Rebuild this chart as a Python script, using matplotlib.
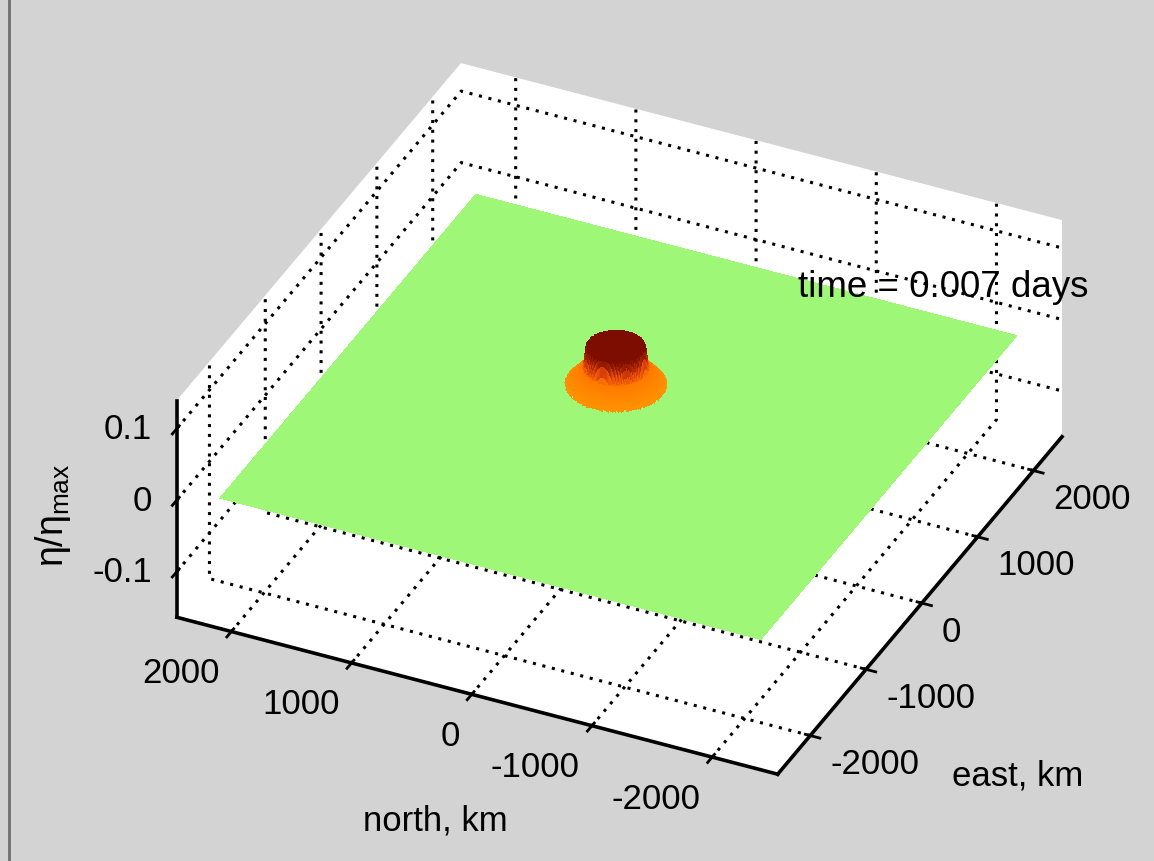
import matplotlib
matplotlib.use('Agg')
import matplotlib.pyplot as plt
import matplotlib.transforms as mtransforms
import numpy as np
from matplotlib.colors import LinearSegmentedColormap, Normalize
from matplotlib.lines import Line2D
from mpl_toolkits.mplot3d import proj3d

# axis ranges
east_lim = (-2583, 2511)
north_lim = (-2545, 2453)
eta_lim = (-0.164, 0.138)

east_ticks = [-2000, -1000, 0, 1000, 2000]
north_ticks = [-2000, -1000, 0, 1000, 2000]
eta_ticks = [-0.1, 0, 0.1]

# extent of the model grid, km
grid_east = (-2420, 2165)
grid_north = (-2330, 2171)

# radial profile of the hump: radius in km -> eta/eta_max
hump_r = [0, 225, 235, 245, 388, 392]
hump_eta = [0.083, 0.083, 0.07, 0.055, 0.03, 0.0]

time_days = 0.007

# colour stops, eta/eta_max -> colour
cmap_levels = [0.0, 0.01, 0.03, 0.055, 0.068, 0.083]
cmap_colors = ['#9ef777', '#ffb040', '#ff9400', '#ff7800', '#e0440a', '#7c0d00']

W, H = 1154, 862

plt.rcParams['font.family'] = ['Liberation Sans', 'DejaVu Sans']
plt.rcParams['font.size'] = 25
plt.rcParams['axes.unicode_minus'] = False
plt.rcParams['mathtext.fontset'] = 'custom'
plt.rcParams['mathtext.rm'] = 'Liberation Sans'
plt.rcParams['mathtext.it'] = 'Liberation Sans'
plt.rcParams['grid.color'] = 'k'
plt.rcParams['grid.linestyle'] = ':'
plt.rcParams['grid.linewidth'] = 2.2
plt.rcParams['lines.dotted_pattern'] = [1.0, 2.2]
plt.rcParams['xtick.major.width'] = 2
plt.rcParams['ytick.major.width'] = 2

fig = plt.figure(figsize=(W / 100, H / 100), dpi=100, facecolor='#d3d3d3')
ax = fig.add_axes([0.19887, 0.06032, 0.65806, 0.88097], projection='3d')
ax.set_facecolor('none')
ax.set_proj_type('ortho')
ax.view_init(elev=33.83, azim=-154.87)
ax.set_box_aspect((669.5, 663.6, 260), zoom=1.25)

# sea surface: coarse cells over the flat sea, fine cells over the hump
e = np.unique(np.concatenate([np.linspace(grid_east[0], -460, 15),
                              np.linspace(-460, 460, 93),
                              np.linspace(460, grid_east[1], 15)]))
n = np.unique(np.concatenate([np.linspace(grid_north[0], -460, 15),
                              np.linspace(-460, 460, 93),
                              np.linspace(460, grid_north[1], 15)]))
E, N = np.meshgrid(e, n)
Z = np.interp(np.hypot(E, N), hump_r, hump_eta)

# one value per cell: corner mean, cells on the rim of the hump keep the sea colour
corners = np.stack([Z[:-1, :-1], Z[1:, :-1], Z[:-1, 1:], Z[1:, 1:]])
cell = np.where(corners.min(axis=0) < 0.029, 0.0, corners.mean(axis=0))
cell = np.pad(cell, ((0, 1), (0, 1)), mode='edge')

top = max(cmap_levels)
cmap = LinearSegmentedColormap.from_list(
    'hump', list(zip(np.array(cmap_levels) / top, cmap_colors)))
fc = cmap(Normalize(0, top)(cell))
surf = ax.plot_surface(E, N, Z, facecolors=fc, rstride=1, cstride=1,
                       linewidth=0, antialiased=False, shade=False)
surf.set_clip_on(False)

ax.set_xlim(east_lim)
ax.set_ylim(north_lim)
ax.set_zlim(eta_lim)
ax.set_xticks(east_ticks)
ax.set_yticks(north_ticks)
ax.set_zticks(eta_ticks)
ax.set_xticklabels([''] * len(east_ticks))
ax.set_yticklabels([''] * len(north_ticks))
ax.set_zticklabels([''] * len(eta_ticks))

for axis in (ax.xaxis, ax.yaxis, ax.zaxis):
    axis.set_pane_color((1, 1, 1, 1))
    axis.line.set_color('k')
    axis.line.set_linewidth(2.6)

fig.canvas.draw()
pix = mtransforms.IdentityTransform()


def to_px(x, y, z):
    px, py, _ = proj3d.proj_transform(x, y, z, ax.M)
    return ax.transData.transform((px, py))


for v in north_ticks:
    x0, y0 = to_px(east_lim[0], v, eta_lim[0])
    fig.text(x0 - 12, y0 - 41, f'{v:g}', ha='right', va='center', transform=pix)

for v in east_ticks:
    x0, y0 = to_px(v, north_lim[0], eta_lim[0])
    fig.text(x0 + 20, y0 - 28, f'{v:g}', ha='left', va='center', transform=pix)

for v in eta_ticks:
    x0, y0 = to_px(east_lim[0], north_lim[1], v)
    fig.text(x0 - 25, y0, f'{v:g}', ha='right', va='center', transform=pix)

fig.text(435, H - 821, 'north, km', ha='center', va='center', transform=pix)
fig.text(1018, H - 776, 'east, km', ha='center', va='center', transform=pix)
fig.text(53, H - 515, r'$\eta/\eta_{\mathrm{max}}$', rotation=90, fontsize=27,
         ha='center', va='center', transform=pix)
fig.text(798, H - 288, f'time = {time_days:.3f} days', ha='left', va='center',
         fontsize=26.5, transform=pix)

fig.add_artist(Line2D([9, 9], [0, H], transform=pix, color='#707070', lw=2))

fig.savefig('out.png', dpi=100, facecolor=fig.get_facecolor())
